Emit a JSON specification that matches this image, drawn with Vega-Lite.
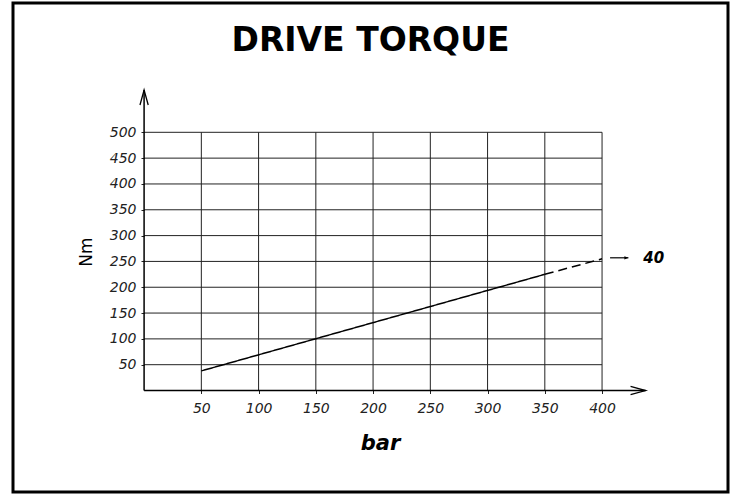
{
  "$schema": "https://vega.github.io/schema/vega-lite/v6.json",
  "autosize": {"type": "none"},
  "padding": {"left": 13, "top": 3, "right": 4, "bottom": 2},
  "width": 715,
  "height": 489,
  "background": "white",
  "title": {"text": "DRIVE TORQUE", "font": "DejaVu Sans", "fontSize": 33, "fontWeight": "bold", "color": "black", "anchor": "middle", "frame": "group", "offset": -81, "baseline": "alphabetic"},
  "config": {"view": {"stroke": "black", "strokeWidth": 3}, "font": "DejaVu Sans"},
  "datasets": {
    "hgrid": [{"Nm": 50}, {"Nm": 100}, {"Nm": 150}, {"Nm": 200}, {"Nm": 250}, {"Nm": 300}, {"Nm": 350}, {"Nm": 400}, {"Nm": 450}, {"Nm": 500}],
    "vgrid": [{"bar": 50}, {"bar": 100}, {"bar": 150}, {"bar": 200}, {"bar": 250}, {"bar": 300}, {"bar": 350}, {"bar": 400}],
    "torque": [
      {"bar": 50, "Nm": 38, "seg": "solid"},
      {"bar": 350, "Nm": 225, "seg": "solid"},
      {"bar": 350, "Nm": 225, "seg": "dashed"},
      {"bar": 400, "Nm": 255, "seg": "dashed"}
    ],
    "note": [{"bar": 407, "bar2": 423, "Nm": 257, "tx": 436, "label": "40"}],
    "one": [{}]
  },
  "layer": [
    {
      "data": {"name": "hgrid"},
      "mark": {"type": "rule", "color": "#222", "strokeWidth": 1},
      "encoding": {
        "y": {"field": "Nm", "type": "quantitative", "scale": {"domain": [-196.5, 750.4], "nice": false, "zero": false},
          "axis": {"values": [50, 100, 150, 200, 250, 300, 350, 400, 450, 500], "offset": -131, "domain": false, "grid": false, "ticks": true, "tickSize": 3, "tickColor": "#222",
            "labelFont": "DejaVu Sans", "labelFontStyle": "italic", "labelFontSize": 14, "labelColor": "#222", "labelPadding": 5,
            "title": "Nm", "titleFont": "DejaVu Sans", "titleFontSize": 17, "titleFontWeight": "normal", "titleColor": "black", "titlePadding": 14, "titleY": 248.5}},
        "x": {"datum": 0, "type": "quantitative", "scale": {"domain": [-114.5, 510], "nice": false, "zero": false}},
        "x2": {"datum": 400}
      }
    },
    {
      "data": {"name": "vgrid"},
      "mark": {"type": "rule", "color": "#222", "strokeWidth": 1},
      "encoding": {
        "x": {"field": "bar", "type": "quantitative", "scale": {"domain": [-114.5, 510], "nice": false, "zero": false},
          "axis": {"values": [50, 100, 150, 200, 250, 300, 350, 400], "offset": -101.5, "domain": false, "grid": false, "ticks": true, "tickSize": 3, "tickColor": "#222",
            "labelFont": "DejaVu Sans", "labelFontStyle": "italic", "labelFontSize": 14, "labelColor": "#222", "labelPadding": 8,
            "title": "bar", "titleFont": "DejaVu Sans", "titleFontSize": 21, "titleFontWeight": "bold", "titleFontStyle": "italic", "titleColor": "black", "titlePadding": 17, "titleX": 367}},
        "y": {"datum": 0, "type": "quantitative", "scale": {"domain": [-196.5, 750.4], "nice": false, "zero": false}},
        "y2": {"datum": 500}
      }
    },
    {
      "data": {"name": "one"},
      "mark": {"type": "rule", "color": "black", "strokeWidth": 1.5},
      "encoding": {
        "x": {"datum": 0, "type": "quantitative"},
        "y": {"datum": 0, "type": "quantitative"},
        "y2": {"datum": 582}
      }
    },
    {
      "data": {"name": "one"},
      "mark": {"type": "rule", "color": "black", "strokeWidth": 1.5},
      "encoding": {
        "y": {"datum": 0, "type": "quantitative"},
        "x": {"datum": 0, "type": "quantitative"},
        "x2": {"datum": 438}
      }
    },
    {
      "data": {"name": "one"},
      "mark": {"type": "point", "shape": "M-2,-0.55L0,0L-2,0.55", "size": 225, "filled": false, "color": "black", "strokeWidth": 1.3, "opacity": 1},
      "encoding": {
        "x": {"datum": 438, "type": "quantitative"},
        "y": {"datum": 0, "type": "quantitative"}
      }
    },
    {
      "data": {"name": "one"},
      "mark": {"type": "point", "shape": "M-0.55,2L0,0L0.55,2", "size": 225, "filled": false, "color": "black", "strokeWidth": 1.3, "opacity": 1},
      "encoding": {
        "x": {"datum": 0, "type": "quantitative"},
        "y": {"datum": 582, "type": "quantitative"}
      }
    },
    {
      "data": {"name": "torque"},
      "mark": {"type": "line", "color": "black", "strokeWidth": 1.5},
      "encoding": {
        "x": {"field": "bar", "type": "quantitative"},
        "y": {"field": "Nm", "type": "quantitative"},
        "detail": {"field": "seg"},
        "strokeDash": {"field": "seg", "type": "nominal", "scale": {"domain": ["solid", "dashed"], "range": [[1, 0], [9, 5]]}, "legend": null}
      }
    },
    {
      "data": {"name": "note"},
      "mark": {"type": "rule", "color": "black", "strokeWidth": 1.2},
      "encoding": {
        "x": {"field": "bar", "type": "quantitative"},
        "x2": {"field": "bar2"},
        "y": {"field": "Nm", "type": "quantitative"}
      }
    },
    {
      "data": {"name": "note"},
      "mark": {"type": "point", "shape": "M-2,-0.8L0,0L-2,0.8Z", "size": 16, "filled": true, "color": "black", "opacity": 1},
      "encoding": {
        "x": {"field": "bar2", "type": "quantitative"},
        "y": {"field": "Nm", "type": "quantitative"}
      }
    },
    {
      "data": {"name": "note"},
      "mark": {"type": "text", "align": "left", "baseline": "middle", "font": "DejaVu Sans", "fontSize": 15, "fontWeight": "bold", "fontStyle": "italic", "color": "black"},
      "encoding": {
        "x": {"field": "tx", "type": "quantitative"},
        "y": {"field": "Nm", "type": "quantitative"},
        "text": {"field": "label"}
      }
    }
  ]
}
